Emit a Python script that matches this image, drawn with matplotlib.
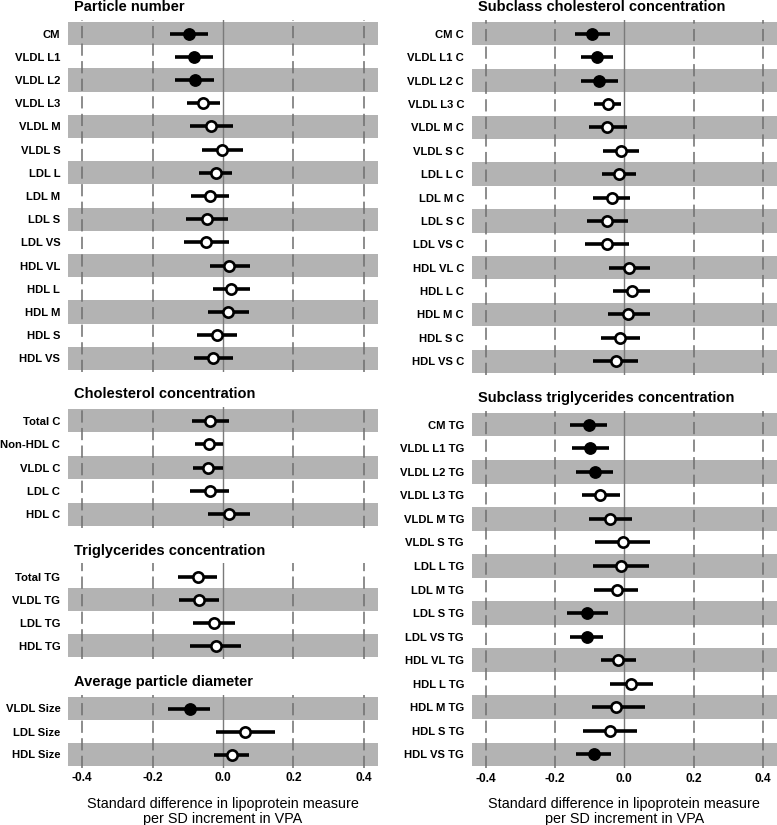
import numpy as np
import matplotlib
matplotlib.use("Agg")
import matplotlib.pyplot as plt

plt.rcParams['font.family'] = ['Liberation Sans', 'DejaVu Sans']

# ---- data (estimate, lower CI, upper CI, significant) ----
pn_labels = ["CM", "VLDL L1", "VLDL L2", "VLDL L3", "VLDL M", "VLDL S", "LDL L", "LDL M",
             "LDL S", "LDL VS", "HDL VL", "HDL L", "HDL M", "HDL S", "HDL VS"]
pn_est = [-0.096, -0.082, -0.080, -0.057, -0.034, -0.002, -0.020, -0.038,
          -0.045, -0.047, 0.018, 0.024, 0.015, -0.017, -0.027]
pn_lo = [-0.150, -0.136, -0.135, -0.103, -0.095, -0.061, -0.067, -0.092,
         -0.106, -0.112, -0.037, -0.027, -0.042, -0.074, -0.082]
pn_hi = [-0.044, -0.028, -0.026, -0.009, 0.028, 0.058, 0.026, 0.017,
         0.015, 0.018, 0.076, 0.076, 0.075, 0.040, 0.027]
pn_sig = [1, 1, 1, 0, 0, 0, 0, 0, 0, 0, 0, 0, 0, 0, 0]

ch_labels = ["Total C", "Non-HDL C", "VLDL C", "LDL C", "HDL C"]
ch_est = [-0.036, -0.041, -0.042, -0.038, 0.016]
ch_lo = [-0.087, -0.080, -0.084, -0.093, -0.043]
ch_hi = [0.017, -0.001, 0.000, 0.016, 0.077]
ch_sig = [0, 0, 0, 0, 0]

tg_labels = ["Total TG", "VLDL TG", "LDL TG", "HDL TG"]
tg_est = [-0.071, -0.067, -0.025, -0.021]
tg_lo = [-0.127, -0.124, -0.085, -0.094]
tg_hi = [-0.016, -0.012, 0.035, 0.052]
tg_sig = [0, 0, 0, 0]

sz_labels = ["VLDL Size", "LDL Size", "HDL Size"]
sz_est = [-0.095, 0.063, 0.025]
sz_lo = [-0.155, -0.020, -0.025]
sz_hi = [-0.038, 0.147, 0.073]
sz_sig = [1, 0, 0]

sc_labels = ["CM C", "VLDL L1 C", "VLDL L2 C", "VLDL L3 C", "VLDL M C", "VLDL S C", "LDL L C",
             "LDL M C", "LDL S C", "LDL VS C", "HDL VL C", "HDL L C", "HDL M C", "HDL S C", "HDL VS C"]
sc_est = [-0.092, -0.079, -0.073, -0.048, -0.049, -0.010, -0.016, -0.035,
          -0.049, -0.051, 0.014, 0.023, 0.012, -0.012, -0.025]
sc_lo = [-0.143, -0.126, -0.126, -0.086, -0.103, -0.060, -0.063, -0.089,
         -0.108, -0.113, -0.045, -0.031, -0.047, -0.068, -0.091]
sc_hi = [-0.040, -0.031, -0.019, -0.009, 0.008, 0.044, 0.033, 0.018,
         0.012, 0.014, 0.073, 0.074, 0.073, 0.045, 0.040]
sc_sig = [1, 1, 1, 0, 0, 0, 0, 0, 0, 0, 0, 0, 0, 0, 0]

st_labels = ["CM TG", "VLDL L1 TG", "VLDL L2 TG", "VLDL L3 TG", "VLDL M TG", "VLDL S TG", "LDL L TG",
             "LDL M TG", "LDL S TG", "LDL VS TG", "HDL VL TG", "HDL L TG", "HDL M TG", "HDL S TG",
             "HDL VS TG"]
st_est = [-0.103, -0.098, -0.085, -0.069, -0.042, -0.004, -0.010, -0.022,
          -0.106, -0.106, -0.017, 0.019, -0.023, -0.042, -0.088]
st_lo = [-0.155, -0.150, -0.140, -0.123, -0.103, -0.084, -0.090, -0.087,
         -0.166, -0.156, -0.066, -0.040, -0.094, -0.118, -0.140]
st_hi = [-0.051, -0.043, -0.032, -0.012, 0.023, 0.075, 0.072, 0.041,
         -0.046, -0.060, 0.033, 0.083, 0.059, 0.038, -0.037]
st_sig = [1, 1, 1, 0, 0, 0, 0, 0, 1, 1, 0, 0, 0, 0, 1]

xticks = [-0.4, -0.2, 0.0, 0.2, 0.4]
xlab = "Standard difference in lipoprotein measure\nper SD increment in VPA"

W, H = 777, 825
fig = plt.figure(figsize=(W / 100, H / 100), dpi=100)


def px_axes(left, top, right, bottom):
    return fig.add_axes([left / W, 1 - bottom / H, (right - left) / W, (bottom - top) / H])


def forest(ax, title, labels, est, lo, hi, sig, bottom=False):
    n = len(labels)
    y = np.arange(n, 0, -1)
    ax.set_xlim(-0.44, 0.44)
    ax.set_ylim(0.4, n + 0.6)
    # alternating grey rows, counted from the bottom
    for yy in y:
        if yy % 2 == 1:
            ax.axhspan(yy - 0.5, yy + 0.5, color='#b3b3b3', lw=0, zorder=0)
    for xv in [-0.4, -0.2, 0.2, 0.4]:
        ax.axvline(xv, color='#6e6e6e', lw=1.1, dashes=(8, 3.5), zorder=1)
    ax.axvline(0, color='#7a7a7a', lw=1.0, zorder=1)
    ax.hlines(y, lo, hi, color='black', lw=2.6, zorder=2)
    for yy, e, s in zip(y, est, sig):
        if s:
            ax.plot(e, yy, 'o', ms=8.2, mfc='black', mec='black', zorder=3)
        else:
            ax.plot(e, yy, 'o', ms=7.4, mfc='white', mec='black', mew=1.9, zorder=3)
    ax.set_yticks(y)
    ax.set_yticklabels(labels, fontweight='bold', fontsize=8.15)
    ax.tick_params(axis='y', length=0, pad=5.5)
    ax.set_xticks(xticks)
    if bottom:
        ax.set_xticklabels(["%.1f" % v for v in xticks], fontweight='bold', fontsize=8.6)
        ax.tick_params(axis='x', length=0, pad=3)
        ax.set_xlabel(xlab, fontsize=10.4, labelpad=9, linespacing=1.1)
    else:
        ax.tick_params(axis='x', length=0, labelbottom=False)
    for sp in ax.spines.values():
        sp.set_visible(False)
    ax.annotate(title, xy=(0, 1), xycoords='axes fraction', xytext=(4.5, 6),
                textcoords='offset points', ha='left', va='baseline',
                fontweight='bold', fontsize=10.5)


# left column
forest(px_axes(68, 19.7, 378, 372.3), "Particle number", pn_labels, pn_est, pn_lo, pn_hi, pn_sig)
forest(px_axes(68, 406.7, 378, 528.3), "Cholesterol concentration", ch_labels, ch_est, ch_lo, ch_hi, ch_sig)
forest(px_axes(68, 563.2, 378, 659.3), "Triglycerides concentration", tg_labels, tg_est, tg_lo, tg_hi, tg_sig)
forest(px_axes(68, 694.7, 378, 768.3), "Average particle diameter", sz_labels, sz_est, sz_lo, sz_hi, sz_sig,
       bottom=True)

# right column
forest(px_axes(471.7, 19.7, 776.7, 375.3), "Subclass cholesterol concentration", sc_labels, sc_est, sc_lo,
       sc_hi, sc_sig)
forest(px_axes(471.7, 410.6, 776.7, 768.4), "Subclass triglycerides concentration", st_labels, st_est, st_lo,
       st_hi, st_sig, bottom=True)

fig.savefig("out.png", dpi=100)
